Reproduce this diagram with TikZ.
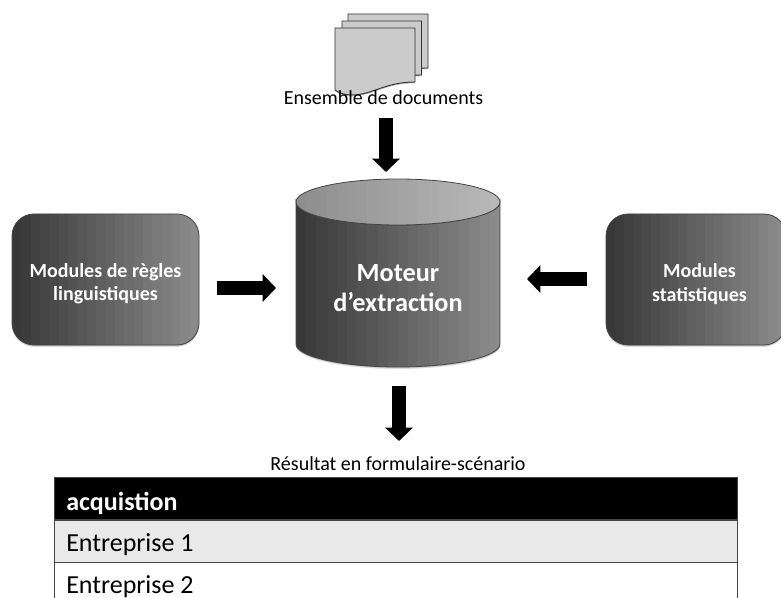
\documentclass[tikz,border=0pt]{standalone}
\usepackage{fontspec}
\setmainfont{Carlito}
\usetikzlibrary{arrows.meta}
\definecolor{graydark}{HTML}{383838}
\definecolor{graylight}{HTML}{8A8A8A}
\definecolor{lidleft}{HTML}{8E8E8E}
\definecolor{lidright}{HTML}{B8B8B8}
\definecolor{pagefill}{HTML}{CBCBCB}
\definecolor{rowfill}{HTML}{E9E9E9}
\definecolor{edge}{HTML}{444444}
% #1 path, #2 left x, #3 right x, #4 left colour, #5 right colour
\newcommand{\bandedshape}[5]{%
  \fill[black,opacity=.12] [yshift=-1.5pt] #1;
  \fill[black,opacity=.12] [yshift=-.8pt] #1;
  \begin{scope}
    \clip #1;
    \foreach \k in {0,...,19}{
      \pgfmathsetmacro{\mixv}{100-\k*100/19}
      \pgfmathsetmacro{\bl}{#2+(#3-#2)*\k/20}
      \pgfmathsetmacro{\br}{#2+(#3-#2)*(\k+1)/20+.6}
      \fill[#4!\mixv!#5] (\bl,150) rectangle (\br,400);
    }
  \end{scope}
  \draw[edge,line width=.6pt] #1;
}
\tikzset{
  x=0.75pt,y=-0.75pt,
  softshadow/.style={preaction={fill=black,opacity=.25,transform canvas={yshift=-1pt}}},
  blockarrow/.style={line width=10pt,black,-{Triangle[width=20.25pt,length=10pt]}},
  pagesheet/.style={draw=black!80,line width=.7pt,fill=pagefill,softshadow},
  whitelabel/.style={text=white,font=\fontsize{15pt}{17.5pt}\selectfont\bfseries,align=center},
  cell/.style={draw=edge,line width=.9pt,minimum width=512.25pt,minimum height=31.5pt,anchor=north west,inner sep=0pt},
  celltext/.style={anchor=west,inner sep=0pt,font=\fontsize{19.5pt}{22pt}\selectfont},
}
\begin{document}
\begin{tikzpicture}
\useasboundingbox (0,0) rectangle (781,598);
\begin{scope}
\clip (0,0) rectangle (781,598);
% document stack
\path[pagesheet] (348,14) -- (428,14) -- (428,68) .. controls (405,68) and (385,72) .. (370,76) -- (348,76) -- cycle;
\path[pagesheet] (342,21) -- (421.5,21) -- (421.5,75) .. controls (400,75) and (380,80) .. (365,83) -- (342,83) -- cycle;
\path[pagesheet] (335,28) -- (415,28) -- (415,82)
   .. controls (385,82) and (372,95) .. (352,95) .. controls (345,95) and (339,93) .. (335,90) -- cycle;
\node[font=\fontsize{15pt}{17pt}\selectfont,anchor=base] (ens) at (383.5,104.5) {Ensemble de documents};
% left module
\bandedshape{[rounded corners=16.5pt] (12,214) rectangle (199,345)}{12}{199}{graydark}{graylight}
\node[whitelabel] (regles) at (105.5,284) {Modules de règles\\linguistiques};
% right module
\bandedshape{[rounded corners=16.5pt] (606,214) rectangle (786,345)}{606}{786}{graydark}{graylight}
\node[whitelabel] (stats) at (699.5,284) {Modules\\statistiques};
% cylinder
\bandedshape{(296,202) -- (296,344) arc[start angle=180,end angle=0,x radius=102,y radius=23] -- (500,202) arc[start angle=0,end angle=180,x radius=102,y radius=23] -- cycle}{296}{500}{graydark}{graylight}
\begin{scope}
\clip (398,202) ellipse [x radius=102,y radius=23];
\foreach \k in {0,...,19}{
  \pgfmathsetmacro{\mixv}{100-\k*100/19}
  \pgfmathsetmacro{\bl}{296+204*\k/20}
  \pgfmathsetmacro{\br}{296+204*(\k+1)/20+.6}
  \fill[lidleft!\mixv!lidright] (\bl,170) rectangle (\br,230);
}
\end{scope}
\draw[edge,line width=.6pt] (398,202) ellipse [x radius=102,y radius=23];
\node[text=white,font=\fontsize{19.7pt}{23pt}\selectfont\bfseries,align=center] (moteur) at (398,288) {Moteur\\d’extraction};
% arrows
\coordinate (a1s) at (386,118); \coordinate (a1e) at (386,172);
\coordinate (a2s) at (217,288); \coordinate (a2e) at (276,288);
\coordinate (a3s) at (587,279); \coordinate (a3e) at (527,279);
\coordinate (a4s) at (399,386); \coordinate (a4e) at (399,441);
\draw[blockarrow] (a1s) -- (a1e);
\draw[blockarrow] (a2s) -- (a2e);
\draw[blockarrow] (a3s) -- (a3e);
\draw[blockarrow] (a4s) -- (a4e);
% result table
\node[font=\fontsize{15pt}{17pt}\selectfont,anchor=base] (res) at (398,470) {Résultat en formulaire-scénario};
\node[cell,fill=black] (hd) at (54,477) {};
\node[cell,fill=rowfill] (r1) at (54,520) {};
\node[cell,fill=white,minimum height=40pt] (r2) at (54,562) {};
\node[celltext,text=white,font=\fontsize{19.5pt}{22pt}\selectfont\bfseries] (hdt) at (66,503.5) {acquistion};
\node[celltext] (r1t) at (66,544.5) {Entreprise 1};
\node[celltext] (r2t) at (66,586.5) {Entreprise 2};
\end{scope}
\end{tikzpicture}
\end{document}
